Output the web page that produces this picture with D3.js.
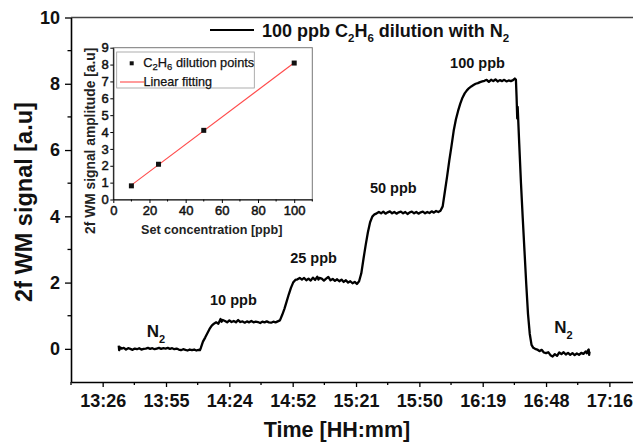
<!DOCTYPE html>
<html>
<head>
<meta charset="utf-8">
<script src="https://cdn.jsdelivr.net/npm/d3@7"></script>
<style>
  html, body { margin: 0; padding: 0; background: #fff; }
  svg { display: block; font-family: "Liberation Sans", Arial, sans-serif; }
</style>
</head>
<body>
<svg id="chart" width="633" height="442"></svg>
<script>
// ---- data -------------------------------------------------------------
// 2f WM signal during the 100 ppb C2H6 dilution run: [minutes after 13:00, signal a.u.]
const traceStartHour = 13;
const trace = [
  [33.7,0.10],[33.9,-0.04],[34.5,0.04],[35,0.01],[36,0.03],[37,-0.02],[38,0.02],[39,0.00],
  [40,-0.03],[41,0.01],[42,-0.01],[43,0.02],[44,-0.02],[45,0.00],[46,0.01],[47,0.03],
  [48,0.00],[49,0.02],[50,-0.01],[51,0.01],[52,0.03],[53,0.00],[54,0.02],[55,0.01],
  [56,0.03],[57,0.00],[58,0.02],[59,-0.01],[60,0.01],[61,-0.02],[62,-0.04],[63,-0.01],
  [64,-0.03],[65,-0.05],[66,-0.02],[67,-0.04],[68,-0.02],[69,-0.05],[70,-0.03],[70.6,-0.04],
  [71,0.02],[71.5,0.12],[72,0.22],[73,0.34],[74,0.47],[75,0.60],[76,0.70],[77,0.76],
  [78,0.80],[79,0.76],[80,0.90],[80.5,0.82],[81,0.87],[82,0.84],[83,0.80],[84,0.86],[85,0.81],
  [86,0.84],[87,0.80],[88,0.87],[89,0.81],[90,0.83],[91,0.79],[92,0.83],[93,0.80],
  [94,0.84],[95,0.80],[96,0.82],[97,0.81],[98,0.78],[99,0.82],[100,0.80],[101,0.83],
  [102,0.80],[103,0.79],[104,0.82],[105,0.80],[106,0.83],[107,0.86],
  [108,1.02],[109,1.20],[110,1.42],[111,1.64],[112,1.84],[113,2.00],[114,2.08],[115,2.10],
  [116,2.14],[117,2.09],[118,2.14],[119,2.07],[120,2.12],[121,2.06],[122,2.15],[123,2.08],
  [124,2.18],[124.5,2.09],[125,2.14],[126,2.12],[127,2.06],[128,2.12],[129,2.17],[130,2.07],[131,2.11],
  [132,2.05],[133,2.10],[134,2.04],[135,2.09],[136,2.02],[137,2.07],[138,2.00],[139,2.04],
  [140,1.98],[141,2.02],[142,1.96],[143,2.04],
  [144,2.28],[145,2.72],[146,3.14],[147,3.52],[148,3.82],[149,3.99],[150,4.06],[151,4.09],
  [152,4.13],[153,4.09],[154,4.14],[155,4.08],[156,4.12],[157,4.15],[158,4.09],[159,4.13],
  [160,4.08],[161,4.12],[162,4.14],[163,4.09],[164,4.13],[165,4.07],[166,4.12],[167,4.14],
  [168,4.09],[169,4.13],[170,4.08],[171,4.12],[172,4.14],[173,4.09],[174,4.13],[175,4.10],
  [176,4.15],[177,4.11],[178,4.16],[179,4.13],[180,4.17],
  [181,4.30],[182,4.75],[183,5.20],[184,5.68],[185,6.12],[186,6.58],[187,6.92],[188,7.18],
  [189,7.40],[190,7.58],[191,7.71],[192,7.80],[193,7.87],[194,7.92],[195,7.96],[196,8.00],
  [197,8.02],[198,8.05],[199,8.07],[200,8.09],[201,8.12],[202,8.06],[203,8.12],[204,8.08],
  [205,8.13],[206,8.07],[207,8.11],[208,8.08],[209,8.12],[210,8.07],[211,8.10],[212,8.08],
  [213,8.11],[213.8,8.16],[214.3,8.12],
  [214.6,7.60],[214.9,6.95],[215.1,7.30],[215.8,6.20],[216.6,5.00],[217.4,3.95],[218.2,2.95],
  [219,1.95],[219.8,1.05],[220.6,0.45],[221.4,0.12],[222.2,0.03],[223,0.00],
  [224,-0.02],[225,-0.07],[226,-0.03],[227,-0.11],[228,-0.13],[229,-0.10],[230,-0.19],[231,-0.23],
  [232,-0.16],[233,-0.21],[234,-0.11],[235,-0.16],[236,-0.10],[237,-0.17],[238,-0.12],[239,-0.18],
  [240,-0.13],[241,-0.19],[242,-0.14],[243,-0.18],[244,-0.12],[245,-0.15],[246,-0.08],[246.6,-0.13],
  [247,-0.05],[247.4,-0.02],[247.6,-0.18],[247.8,-0.08]
];

// time axis: positions are fractions of a day, labels as HH:mm
const xTickValues = [0.56, 0.58, 0.60, 0.62, 0.64, 0.66, 0.68, 0.70, 0.72];
const xTickLabels = ["13:26", "13:55", "14:24", "14:52", "15:21", "15:50", "16:19", "16:48", "17:16"];
const yTickValues = [0, 2, 4, 6, 8, 10];
const yMinorValues = [1, 3, 5, 7, 9];

// concentration steps annotated on the trace
const stepNames = ["10 ppb", "25 ppb", "50 ppb", "100 ppb"];

// calibration inset
const setConcentration = [10, 25, 50, 100];
const amplitude = [0.81, 2.09, 4.10, 8.09];
const insetXTicks = [0, 20, 40, 60, 80, 100];
const insetYTicks = [0, 1, 2, 3, 4, 5, 6, 7, 8, 9];

// ---- drawing ----------------------------------------------------------
const svg = d3.select("#chart");
const FONT = '"Liberation Sans", Arial, sans-serif';

const x = d3.scaleLinear().domain([0.55, 0.75]).range([71, 71 + 0.2 * 3167]);
const y = d3.scaleLinear().domain([-1, 10]).range([382, 17.5]);
const toDay = m => (traceStartHour * 60 + m) / 1440;

// writes text made of [string, isSubscript] runs
function richText(g, runs, size, subSize, subShift) {
  runs.forEach(([s, sub], i) => {
    const t = g.append("tspan").text(s);
    if (sub) {
      t.attr("font-size", subSize).attr("dy", subShift);
    } else {
      t.attr("font-size", size);
      if (i > 0 && runs[i - 1][1]) t.attr("dy", -subShift);
    }
  });
  return g;
}

// frame top edge
svg.append("line")
  .attr("x1", x.range()[0]).attr("x2", x.range()[1])
  .attr("y1", y(10)).attr("y2", y(10))
  .attr("stroke", "#444").attr("stroke-width", 1.3);

// x axis
const xAxis = svg.append("g").attr("transform", `translate(0,${y(-1)})`)
  .call(d3.axisBottom(x).tickValues(xTickValues)
    .tickFormat((d, i) => xTickLabels[i]).tickSizeInner(5).tickSizeOuter(0).tickPadding(7));
const xMinor = d3.range(0.55, 0.75, 0.01).filter(v => !xTickValues.some(t => Math.abs(t - v) < 1e-6));
xAxis.selectAll(".minor").data(xMinor).enter().append("line").attr("class", "minor")
  .attr("x1", d => x(d)).attr("x2", d => x(d)).attr("y1", 0).attr("y2", 3)
  .attr("stroke", "#000").attr("stroke-width", 1.3);

// y axis
const yAxis = svg.append("g").attr("transform", `translate(${x(0.55)},0)`)
  .call(d3.axisLeft(y).tickValues(yTickValues).tickSizeInner(6).tickSizeOuter(0).tickPadding(5));
yAxis.selectAll(".minor").data(yMinorValues).enter().append("line").attr("class", "minor")
  .attr("x1", 0).attr("x2", -3.5).attr("y1", d => y(d)).attr("y2", d => y(d))
  .attr("stroke", "#000").attr("stroke-width", 1.3);

[xAxis, yAxis].forEach(a => {
  a.select(".domain").attr("stroke", "#000").attr("stroke-width", 1.6);
  a.selectAll(".tick line").attr("stroke", "#000").attr("stroke-width", 1.3);
  a.selectAll(".tick text").attr("font-family", FONT).attr("font-size", 18)
    .attr("font-weight", "bold").attr("fill", "#111");
});

// axis titles
svg.append("text").attr("x", 337).attr("y", 437).attr("text-anchor", "middle")
  .attr("font-size", 21.5).attr("font-weight", "bold").attr("fill", "#111")
  .text("Time [HH:mm]");
svg.append("text").attr("transform", "translate(32,202) rotate(-90)")
  .attr("text-anchor", "middle").attr("font-size", 23.5).attr("font-weight", "bold")
  .attr("fill", "#111").text("2f WM signal [a.u]");

// signal trace
const line = d3.line().x(d => x(toDay(d[0]))).y(d => y(d[1]));
svg.append("path").datum(trace).attr("d", line)
  .attr("fill", "none").attr("stroke", "#000").attr("stroke-width", 2.3)
  .attr("stroke-linejoin", "round");

// step annotations (day fraction, signal level of the label baseline)
const stepAnchors = [[0.5939, 1.33], [0.6192, 2.60], [0.6444, 4.70], [0.6697, 8.47]];
stepNames.forEach((name, i) => {
  svg.append("text").attr("x", x(stepAnchors[i][0])).attr("y", y(stepAnchors[i][1]))
    .attr("font-size", 14.5).attr("font-weight", "bold").attr("fill", "#111").text(name);
});
[[0.5739, 0.37], [0.7026, 0.49]].forEach(([t, v]) => {
  const g = svg.append("text").attr("x", x(t)).attr("y", y(v))
    .attr("font-weight", "bold").attr("fill", "#111");
  richText(g, [["N", false], ["2", true]], 17, 11, 6);
});

// main legend
svg.append("line").attr("x1", 210).attr("x2", 254).attr("y1", 30).attr("y2", 30)
  .attr("stroke", "#000").attr("stroke-width", 2);
const lg = svg.append("text").attr("x", 262).attr("y", 36.7)
  .attr("font-weight", "bold").attr("fill", "#111");
richText(lg, [["100 ppb C", false], ["2", true], ["H", false], ["6", true],
  [" dilution with N", false], ["2", true]], 18, 11.5, 5.5);

// ---- inset: amplitude vs set concentration ----------------------------
const ix = d3.scaleLinear().domain([0, 110]).range([113.3, 312.3]);
const iy = d3.scaleLinear().domain([0, 9]).range([199.5, 47.7]);

svg.append("rect").attr("x", ix(0)).attr("y", iy(9))
  .attr("width", ix(110) - ix(0)).attr("height", iy(0) - iy(9))
  .attr("fill", "#fff").attr("stroke", "#777").attr("stroke-width", 1);

const ixAxis = svg.append("g").attr("transform", `translate(0,${iy(0)})`)
  .call(d3.axisBottom(ix).tickValues(insetXTicks).tickSizeInner(3.5).tickSizeOuter(0).tickPadding(3));
ixAxis.selectAll(".minor").data([10, 30, 50, 70, 90, 110]).enter().append("line")
  .attr("x1", d => ix(d)).attr("x2", d => ix(d)).attr("y1", 0).attr("y2", 2)
  .attr("stroke", "#000");
const iyAxis = svg.append("g").attr("transform", `translate(${ix(0)},0)`)
  .call(d3.axisLeft(iy).tickValues(insetYTicks).tickSizeInner(3).tickSizeOuter(0).tickPadding(1.5));
[ixAxis, iyAxis].forEach(a => {
  a.select(".domain").attr("stroke", "#000").attr("stroke-width", 1);
  a.selectAll(".tick line").attr("stroke", "#000");
  a.selectAll(".tick text").attr("font-family", FONT).attr("font-size", 13)
    .attr("fill", "#111").attr("stroke", "#111").attr("stroke-width", 0.5);
});

svg.append("text").attr("x", 211.7).attr("y", 233.5).attr("text-anchor", "middle")
  .attr("font-size", 12.6).attr("font-weight", "bold").attr("fill", "#222")
  .text("Set concentration [ppb]");
svg.append("text").attr("transform", "translate(95,140.8) rotate(-90)")
  .attr("text-anchor", "middle").attr("font-size", 13.8).attr("font-weight", "bold").attr("fill", "#222")
  .text("2f WM signal amplitude [a.u]");

// least-squares line through the calibration points
const mx = d3.mean(setConcentration), my = d3.mean(amplitude);
const slope = d3.sum(setConcentration, (c, i) => (c - mx) * (amplitude[i] - my)) /
  d3.sum(setConcentration, c => (c - mx) * (c - mx));
const intercept = my - slope * mx;
const fitEnds = d3.extent(setConcentration);
svg.append("line")
  .attr("x1", ix(fitEnds[0])).attr("y1", iy(intercept + slope * fitEnds[0]))
  .attr("x2", ix(fitEnds[1])).attr("y2", iy(intercept + slope * fitEnds[1]))
  .attr("stroke", "#ff4a4a").attr("stroke-width", 1.1);

svg.selectAll(".pt").data(setConcentration).enter().append("rect").attr("class", "pt")
  .attr("x", (d) => ix(d) - 2.5).attr("y", (d, i) => iy(amplitude[i]) - 2.5)
  .attr("width", 5).attr("height", 5).attr("fill", "#111");

// inset legend
svg.append("rect").attr("x", 116.7).attr("y", 52).attr("width", 137.6).attr("height", 36)
  .attr("fill", "#fff").attr("stroke", "#999").attr("stroke-width", 0.8);
svg.append("rect").attr("x", 129.7).attr("y", 61.3).attr("width", 4).attr("height", 4).attr("fill", "#111");
const il1 = svg.append("text").attr("x", 143.3).attr("y", 67).attr("fill", "#111")
  .attr("stroke", "#111").attr("stroke-width", 0.25);
richText(il1, [["C", false], ["2", true], ["H", false], ["6", true], [" dilution points", false]], 12.8, 9.5, 3);
svg.append("line").attr("x1", 120).attr("x2", 144).attr("y1", 82).attr("y2", 82)
  .attr("stroke", "#ff4a4a").attr("stroke-width", 1.1);
svg.append("text").attr("x", 143.5).attr("y", 86).attr("font-size", 12.6).attr("fill", "#111")
  .attr("stroke", "#111").attr("stroke-width", 0.25)
  .text("Linear fitting");
</script>
</body>
</html>
